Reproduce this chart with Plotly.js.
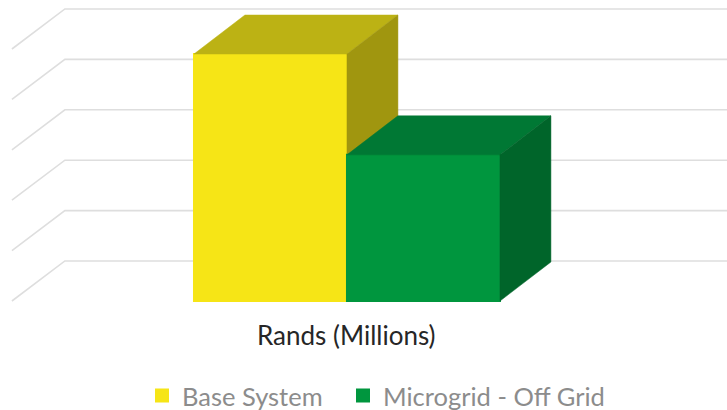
<!DOCTYPE html>
<html>
<head>
<meta charset="utf-8">
<script src="https://cdn.plot.ly/plotly-3.0.1.min.js"></script>
<style>
  html, body { margin: 0; padding: 0; background: #ffffff; }
  #chart { width: 727px; height: 410px; }
</style>
</head>
<body>
<div id="chart"></div>
<script>
// Series shown as 3D columns (relative units, one gridline per unit)
const categories = ['Base System', 'Microgrid - Off Grid'];
const values = [4.9, 2.9];
const gridLevels = [0, 1, 2, 3, 4, 5];
const axisTitle = 'Rands (Millions)';

// Face colours: front, top, side
const frontColors = ['#f6e516', '#00963e'];
const topColors = ['#bcb214', '#007834'];
const sideColors = ['#a0960f', '#00652a'];

// Oblique projection used for the depth of the columns and the back wall
const barWidth = 1;
const barDepth = { dx: 0.333, dy: 0.774 };
const wallDepth = { dx: 0.346, dy: 0.794 };
const wallFrontLeft = -1.69;
const wallRight = 3.2;

const xRange = [-1.768, 2.984];
const yRange = [-0.1786, 5.972];

// Horizontal placement (container fraction) of each legend entry
const legendX = [0.1953, 0.4718];

const data = [];

// Floor / back wall gridlines (drawn on the base subplot, behind the columns)
const gx = [], gy = [];
gridLevels.forEach(k => {
  gx.push(wallFrontLeft, wallFrontLeft + wallDepth.dx, wallRight, null);
  gy.push(k, k + wallDepth.dy, k + wallDepth.dy, null);
});
data.push({
  type: 'scatter', mode: 'lines', x: gx, y: gy,
  line: { color: '#dedede', width: 1.6 },
  hoverinfo: 'skip', showlegend: false, xaxis: 'x', yaxis: 'y'
});

// One overlaid subplot per column so later columns sit in front of earlier ones
categories.forEach((name, i) => {
  const xa = 'x' + (i + 2), ya = 'y' + (i + 2);
  const v = values[i];
  const x0 = i - barWidth / 2, x1 = i + barWidth / 2;
  const { dx, dy } = barDepth;

  data.push({
    type: 'bar', x: [i], y: [v], base: 0, width: barWidth, name: name,
    legend: i === 0 ? 'legend' : 'legend' + (i + 1),
    marker: { color: frontColors[i], line: { width: 2, color: frontColors[i] } },
    hoverinfo: 'name+y', xaxis: xa, yaxis: ya
  });
  // top face
  data.push({
    type: 'scatter', mode: 'lines', fill: 'toself',
    x: [x0, x1, x1 + dx, x0 + dx, x0],
    y: [v, v, v + dy, v + dy, v],
    fillcolor: topColors[i], line: { color: topColors[i], width: 0.5 },
    hoverinfo: 'skip', showlegend: false, xaxis: xa, yaxis: ya
  });
  // right side face
  data.push({
    type: 'scatter', mode: 'lines', fill: 'toself',
    x: [x1, x1, x1 + dx, x1 + dx, x1],
    y: [0, v, v + dy, dy, 0],
    fillcolor: sideColors[i], line: { color: sideColors[i], width: 0.5 },
    hoverinfo: 'skip', showlegend: false, xaxis: xa, yaxis: ya
  });
});

function hiddenAxis(extra) {
  return Object.assign({
    showgrid: false, zeroline: false, showticklabels: false,
    showline: false, ticks: '', fixedrange: true
  }, extra);
}

function legendAt(x) {
  return {
    orientation: 'h', xref: 'container', yref: 'container',
    x: x, xanchor: 'left', y: 0.0341, yanchor: 'middle',
    font: { family: 'Lato, "Open Sans", sans-serif', size: 25.5, color: '#8c8c8c' },
    bgcolor: 'rgba(0,0,0,0)'
  };
}

const layout = {
  width: 727, height: 410,
  margin: { l: 0, r: 0, t: 0, b: 100 },
  paper_bgcolor: '#ffffff', plot_bgcolor: 'rgba(0,0,0,0)',
  font: { family: 'Lato, "Open Sans", sans-serif' },
  xaxis: hiddenAxis({ range: xRange }),
  yaxis: hiddenAxis({ range: yRange }),
  xaxis2: hiddenAxis({ range: xRange, overlaying: 'x', anchor: 'y2' }),
  yaxis2: hiddenAxis({ range: yRange, overlaying: 'y', anchor: 'x2' }),
  xaxis3: hiddenAxis({ range: xRange, overlaying: 'x', anchor: 'y3' }),
  yaxis3: hiddenAxis({ range: yRange, overlaying: 'y', anchor: 'x3' }),
  showlegend: true,
  legend: legendAt(legendX[0]),
  legend2: legendAt(legendX[1]),
  annotations: [{
    text: axisTitle, xref: 'paper', yref: 'paper',
    x: 0.477, y: -0.0806, xanchor: 'center', yanchor: 'middle',
    showarrow: false,
    font: { family: 'Lato, "Open Sans", sans-serif', size: 26, color: '#262626' }
  }]
};

Plotly.newPlot('chart', data, layout, { displayModeBar: false, staticPlot: true });
</script>
</body>
</html>
